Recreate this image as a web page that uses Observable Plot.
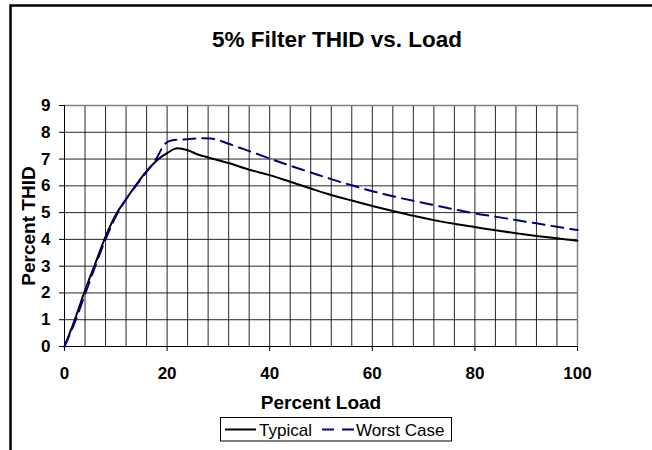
<!DOCTYPE html>
<html><head><meta charset="utf-8">
<script src="https://cdn.jsdelivr.net/npm/d3@7"></script>
<script src="https://cdn.jsdelivr.net/npm/@observablehq/plot@0.6"></script>
<style>
html,body{margin:0;background:#fff;overflow:hidden;}
#chart svg{display:block;}
</style></head><body><div id="chart"></div>
<script>
// ---- data ----
const chartTitle = "5% Filter THID vs. Load";
const xTitle = "Percent Load";
const yTitle = "Percent THID";
const seriesNames = ["Typical", "Worst Case"];

const loadTypical = [0,2,4,6,8,10,12,14,16,18,20,22,24,26,28,32,36,40,44,48,52,56,60,64,68,72,76,80,84,88,92,96,100];
const thidTypical = [0,1.0,2.1,3.1,4.1,4.92,5.5,6.05,6.55,6.95,7.22,7.4,7.33,7.17,7.06,6.85,6.6,6.4,6.15,5.9,5.66,5.45,5.25,5.06,4.88,4.72,4.58,4.46,4.34,4.23,4.13,4.04,3.95];

const loadWorst = [0,2,4,6,8,10,12,14,16,18,19.5,21,24,27,28.5,30,32,34,36,40,44,48,52,56,60,64,68,72,76,80,84,88,92,96,100];
const thidWorst = [0,0.9,1.95,3.0,4.0,4.85,5.5,6.02,6.52,7.05,7.55,7.7,7.74,7.78,7.77,7.7,7.57,7.43,7.3,7.02,6.75,6.5,6.25,6.02,5.8,5.61,5.44,5.28,5.12,4.97,4.85,4.72,4.6,4.47,4.35];

const xTickValues = [0,20,40,60,80,100];
const yTickValues = [0,1,2,3,4,5,6,7,8,9];
const xGridValues = d3.range(0, 101, 4);

// ---- tables ----
const typical = loadTypical.map((x, i) => ({load: x, thid: thidTypical[i], series: seriesNames[0]}));
const worst = loadWorst.map((x, i) => ({load: x, thid: thidWorst[i], series: seriesNames[1]}));

const FONT = "'Liberation Sans', Arial, Helvetica, sans-serif";

const plot = Plot.plot({
  width: 652, height: 450,
  marginLeft: 64, marginRight: 75, marginTop: 105, marginBottom: 104,
  style: {fontFamily: FONT, background: "#fff", color: "#000"},
  x: {domain: [0, 100]},
  y: {domain: [0, 9]},
  marks: [
    Plot.gridX(xGridValues, {stroke: "#000", strokeOpacity: 0.85, strokeWidth: 1}),
    Plot.gridY(yTickValues, {stroke: "#000", strokeOpacity: 0.85, strokeWidth: 1}),
    Plot.ruleX([100], {stroke: "#808080", strokeWidth: 1.5}),
    Plot.ruleY([9], {stroke: "#808080", strokeWidth: 1.5}),
    Plot.ruleX([0], {stroke: "#000", strokeWidth: 1}),
    Plot.ruleY([0], {stroke: "#000", strokeWidth: 1}),
    Plot.axisX(xTickValues, {tickSize: 5, tickPadding: 15, fontSize: 17, fontWeight: "bold", label: null, stroke: "#000"}),
    Plot.axisY(yTickValues, {tickSize: 5, tickPadding: 9, fontSize: 17, fontWeight: "bold", label: null, stroke: "#000"}),
    Plot.line(typical, {x: "load", y: "thid", stroke: "#000", strokeWidth: 2, curve: "monotone-x"}),
    Plot.line(worst, {x: "load", y: "thid", stroke: "#000080", strokeWidth: 2, strokeDasharray: "12,7", curve: "monotone-x"})
  ]
});

document.getElementById("chart").appendChild(plot);
const svg = d3.select(plot);

// outer chart border: only the left and top edges are inside the picture
svg.append("path")
  .attr("d", "M10.5,460V5.5H660")
  .attr("fill", "none").attr("stroke", "#000").attr("stroke-width", 2.5);

// title
svg.append("text").text(chartTitle)
  .attr("x", 337).attr("y", 47).attr("text-anchor", "middle")
  .style("font-family", FONT).style("font-size", "22.5px").style("font-weight", "bold").attr("fill", "#000");

// axis titles
svg.append("text").text(xTitle)
  .attr("x", 321).attr("y", 409).attr("text-anchor", "middle")
  .style("font-family", FONT).style("font-size", "19px").style("font-weight", "bold").attr("fill", "#000");
svg.append("text").text(yTitle)
  .attr("transform", "translate(35,226) rotate(-90)").attr("text-anchor", "middle")
  .style("font-family", FONT).style("font-size", "19px").style("font-weight", "bold").attr("fill", "#000");

// legend
const lg = svg.append("g").attr("text-anchor", "start");
lg.append("rect").attr("x", 220.5).attr("y", 417.5).attr("width", 231).attr("height", 23.5)
  .attr("fill", "#fff").attr("stroke", "#000").attr("stroke-width", 1);
lg.append("line").attr("x1", 225).attr("x2", 256).attr("y1", 429.5).attr("y2", 429.5)
  .attr("stroke", "#000").attr("stroke-width", 2);
lg.append("text").text(seriesNames[0]).attr("x", 259).attr("y", 435.5).attr("text-anchor", "start")
  .style("font-family", FONT).style("font-size", "17px").attr("fill", "#000");
lg.append("line").attr("x1", 322).attr("x2", 354).attr("y1", 429.5).attr("y2", 429.5)
  .attr("stroke", "#000080").attr("stroke-width", 2).attr("stroke-dasharray", "12,8");
lg.append("text").text(seriesNames[1]).attr("x", 356).attr("y", 435.5).attr("text-anchor", "start")
  .style("font-family", FONT).style("font-size", "17px").attr("fill", "#000");
</script></body></html>
